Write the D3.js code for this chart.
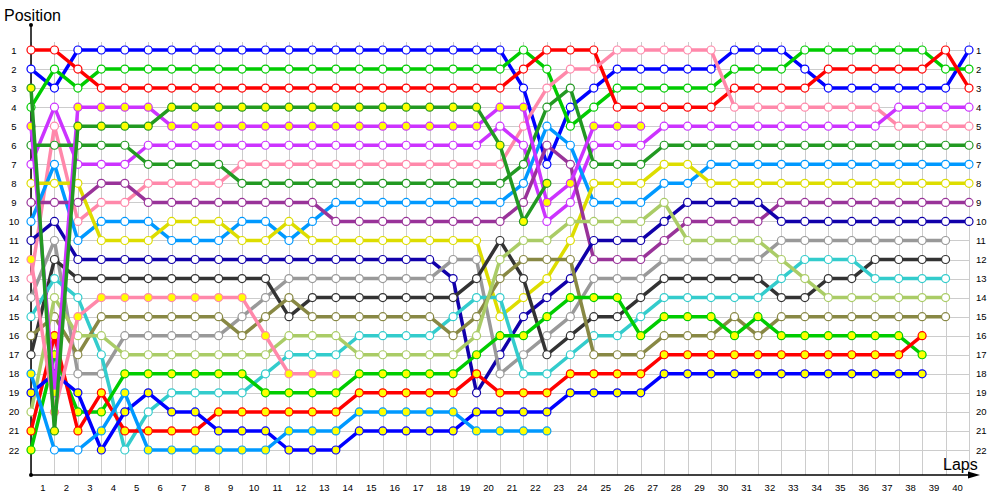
<!DOCTYPE html>
<meta charset="utf-8">
<style>
    body { margin: 0; background: #fff; }
    svg text { font-family: "Liberation Sans", Arial, sans-serif; font-size: 9.5px; fill: #000; }
    svg text.big { font-size: 16px; }
</style>

<svg width="1000" height="500"></svg>

<script src="https://d3js.org/d3.v7.min.js"></script>
<script>
    // positions per lap, lap 0 (grid) .. last lap driven
    var blue = [2, 3, 1, 1, 1, 1, 1, 1, 1, 1,  1, 1, 1, 1, 1, 1, 1, 1, 1, 1,  1, 3, 7, 4, 3, 2, 2, 2, 2, 2,  1, 1, 1, 2, 3, 3, 3, 3, 3, 3,  1];
    var green = [4, 2, 3, 2, 2, 2, 2, 2, 2, 2,  2, 2, 2, 2, 2, 2, 2, 2, 2, 2,  2, 1, 2, 5, 4, 3, 3, 3, 3, 3,  2, 2, 2, 1, 1, 1, 1, 1, 1, 2,  2];
    var red = [1, 1, 2, 3, 3, 3, 3, 3, 3, 3,  3, 3, 3, 3, 3, 3, 3, 3, 3, 3,  3, 2, 1, 1, 1, 4, 4, 4, 4, 4,  3, 3, 3, 3, 2, 2, 2, 2, 2, 1,  3];
    var pink = [13, 5, 10, 9, 9, 8, 8, 8, 8, 7,  7, 7, 7, 7, 7, 7, 7, 7, 7, 7,  7, 5, 3, 2, 2, 1, 1, 1, 1, 1,  4, 4, 4, 4, 4, 4, 4, 5, 5, 5,  5];
    var violet = [7, 4, 7, 7, 7, 6, 6, 6, 6, 6,  6, 6, 6, 6, 6, 6, 6, 6, 6, 6,  5, 6, 10, 9, 6, 6, 6, 5, 5, 5,  5, 5, 5, 5, 5, 5, 5, 4, 4, 4,  4];
    var darkGreen = [6, 6, 6, 6, 6, 7, 7, 7, 7, 8,  8, 8, 8, 8, 8, 8, 8, 8, 8, 8,  8, 7, 4, 3, 7, 7, 7, 6, 6, 6,  6, 6, 6, 6, 6, 6, 6, 6, 6, 6,  6];
    var skyBlue = [10, 7, 11, 10, 10, 10, 11, 11, 11, 10,  10, 11, 10, 9, 9, 9, 9, 9, 9, 9,  9, 8, 5, 6, 9, 9, 9, 8, 8, 7,  7, 7, 7, 7, 7, 7, 7, 7, 7, 7,  7];
    var yellow = [8, 8, 8, 11, 11, 11, 10, 10, 10, 11,  11, 10, 11, 11, 11, 11, 11, 11, 11, 11,  15, 14, 13, 11, 8, 8, 8, 7, 7, 8,  8, 8, 8, 8, 8, 8, 8, 8, 8, 8,  8];
    var purple = [9, 9, 9, 8, 8, 9, 9, 9, 9, 9,  9, 9, 9, 10, 10, 10, 10, 10, 10, 10,  10, 9, 6, 7, 12, 12, 12, 11, 10, 10,  10, 10, 9, 9, 9, 9, 9, 9, 9, 9,  9];
    var navy = [11, 10, 12, 12, 12, 12, 12, 12, 12, 12,  12, 12, 12, 12, 12, 12, 12, 12, 13, 19,  17, 15, 14, 13, 11, 11, 11, 10, 9, 9,  9, 9, 10, 10, 10, 10, 10, 10, 10, 10,  10];
    var gray = [14, 11, 18, 18, 16, 16, 16, 16, 16, 15,  14, 13, 13, 13, 13, 13, 13, 13, 12, 12,  18, 17, 16, 15, 13, 13, 13, 12, 12, 12,  12, 12, 11, 11, 11, 11, 11, 11, 11, 11];
    var black = [17, 12, 13, 13, 13, 13, 13, 13, 13, 13,  13, 15, 14, 14, 14, 14, 14, 14, 14, 13,  11, 13, 17, 16, 15, 15, 14, 13, 13, 13,  13, 13, 14, 14, 13, 13, 12, 12, 12, 12];
    var cyan = [15, 13, 14, 17, 22, 20, 19, 19, 19, 19,  18, 17, 17, 17, 16, 16, 16, 16, 15, 14,  14, 18, 18, 17, 16, 16, 15, 14, 14, 14,  14, 14, 13, 12, 12, 12, 13, 13, 13, 13];
    var olive = [16, 15, 17, 15, 15, 15, 15, 15, 15, 16,  15, 14, 15, 15, 15, 15, 15, 15, 16, 15,  13, 12, 12, 12, 17, 17, 17, 16, 16, 16,  15, 16, 15, 15, 15, 15, 15, 15, 15, 15];
    var lime = [20, 14, 16, 16, 17, 17, 17, 17, 17, 17,  17, 16, 16, 16, 17, 17, 17, 17, 17, 16,  12, 11, 11, 10, 10, 10, 10, 9, 11, 11,  11, 11, 12, 13, 14, 14, 14, 14, 14, 14];
    var green2 = [22, 17, 20, 20, 18, 18, 18, 18, 18, 18,  19, 19, 19, 19, 18, 18, 18, 18, 18, 17,  16, 16, 15, 14, 14, 14, 16, 15, 15, 15,  16, 15, 16, 16, 16, 16, 16, 16, 17];
    var red2 = [21, 16, 21, 19, 21, 21, 21, 21, 20, 20,  20, 20, 20, 20, 19, 19, 19, 19, 19, 18,  19, 19, 19, 18, 18, 18, 18, 17, 17, 17,  17, 17, 17, 17, 17, 17, 17, 17, 16];
    var blue2 = [19, 18, 19, 22, 20, 19, 20, 20, 21, 21,  21, 22, 22, 22, 21, 21, 21, 21, 21, 20,  20, 20, 20, 19, 19, 19, 19, 18, 18, 18,  18, 18, 18, 18, 18, 18, 18, 18, 18];
    var skyBlue2 = [18, 22, 22, 21, 19, 22, 22, 22, 22, 22,  22, 21, 21, 21, 20, 20, 20, 20, 20, 21,  21, 21, 21];
    var pink2 = [12, 20, 15, 14, 14, 14, 14, 14, 14, 14,  16, 18, 18, 18];
    var violet2 = [5, 19, 4, 4, 4, 4, 5, 5, 5, 5,  5, 5, 5, 5, 5, 5, 5, 5, 5, 5,  4, 4, 9, 8, 5, 5, 5];
    var darkGreen2 = [3, 21, 5, 5, 5, 5, 4, 4, 4, 4,  4, 4, 4, 4, 4, 4, 4, 4, 4, 4,  6, 10, 8];

    // laps where skyBlue2 had a white marker instead of yellow
    var skyBlue2WhiteLaps = [1, 2];

    var lapLabels = [1, 2, 3, 4, 5, 6, 7, 8, 9, 10, 11, 12, 13, 14, 15, 16, 17, 18, 19, 20,
        21, 22, 23, 24, 25, 26, 27, 28, 29, 30, 31, 32, 33, 34, 35, 36, 37, 38, 39, 40];
    var positionLabels = [1, 2, 3, 4, 5, 6, 7, 8, 9, 10, 11, 12, 13, 14, 15, 16, 17, 18, 19, 20, 21, 22];

    var drivers = [
        {pos: blue, color: "#0000ff", mark: "w"},
        {pos: green, color: "#00cc00", mark: "w"},
        {pos: red, color: "#ff0000", mark: "w"},
        {pos: pink, color: "#ff88aa", mark: "w"},
        {pos: violet, color: "#cc33ff", mark: "w"},
        {pos: darkGreen, color: "#229922", mark: "w"},
        {pos: skyBlue, color: "#0099ff", mark: "w"},
        {pos: yellow, color: "#dddd00", mark: "w"},
        {pos: purple, color: "#993399", mark: "w"},
        {pos: navy, color: "#1100aa", mark: "w"},
        {pos: gray, color: "#999999", mark: "w"},
        {pos: black, color: "#333333", mark: "w"},
        {pos: cyan, color: "#33cccc", mark: "w"},
        {pos: olive, color: "#888844", mark: "w"},
        {pos: lime, color: "#aacc66", mark: "w"},
        {pos: green2, color: "#00cc00", mark: "y"},
        {pos: red2, color: "#ff0000", mark: "y"},
        {pos: blue2, color: "#0000ff", mark: "y"},
        {pos: skyBlue2, color: "#0099ff", mark: "y", white: skyBlue2WhiteLaps},
        {pos: pink2, color: "#ff88aa", mark: "y"},
        {pos: violet2, color: "#cc33ff", mark: "y"},
        {pos: darkGreen2, color: "#229922", mark: "y"}
    ];

    (function () {
        var svg = d3.select("svg"),
            x = d3.scaleLinear().domain([0, 40]).range([31, 969]),
            y = d3.scaleLinear().domain([1, 22]).range([50, 450]),
            axisY = 475;

        // grid
        var grid = svg.append("g")
            .attr("stroke", "#cccccc")
            .attr("stroke-width", 1)
            .attr("shape-rendering", "crispEdges");
        grid.selectAll("line.v")
            .data([0].concat(lapLabels))
            .enter()
            .append("line")
            .attr("x1", function (d) { return Math.round(x(d)) + 0.5; })
            .attr("x2", function (d) { return Math.round(x(d)) + 0.5; })
            .attr("y1", 42)
            .attr("y2", axisY);
        grid.selectAll("line.h")
            .data(positionLabels)
            .enter()
            .append("line")
            .attr("x1", x(0))
            .attr("x2", x(40))
            .attr("y1", function (d) { return Math.round(y(d)) + 0.5; })
            .attr("y2", function (d) { return Math.round(y(d)) + 0.5; });

        // axes labels
        var left = svg.append("g")
            .attr("transform", "translate(" + x(0) + ",0)")
            .call(d3.axisLeft(y).tickValues(positionLabels).tickSize(0).tickPadding(17));
        left.select(".domain").remove();
        left.selectAll("text").attr("text-anchor", "middle");

        var right = svg.append("g")
            .attr("transform", "translate(" + x(40) + ",0)")
            .call(d3.axisRight(y).tickValues(positionLabels).tickSize(0).tickPadding(7));
        right.select(".domain").remove();

        var bottom = svg.append("g")
            .attr("transform", "translate(0," + axisY + ")")
            .call(d3.axisBottom(x).tickValues(lapLabels).tickSize(0).tickPadding(9));
        bottom.select(".domain").remove();
        bottom.selectAll("text").attr("x", -12);

        // axis lines
        svg.append("line")
            .attr("x1", x(0)).attr("x2", x(0))
            .attr("y1", 25).attr("y2", axisY)
            .attr("stroke", "#000").attr("stroke-width", 1.5);
        svg.append("line")
            .attr("x1", x(0)).attr("x2", 972)
            .attr("y1", axisY).attr("y2", axisY)
            .attr("stroke", "#000").attr("stroke-width", 1.5);
        svg.append("path")
            .attr("d", "M968," + (axisY - 3.5) + "L980," + axisY + "L968," + (axisY + 3.5) + "Z")
            .attr("fill", "#000");
        svg.append("circle").attr("cx", x(0)).attr("cy", 25).attr("r", 2).attr("fill", "#000");
        svg.append("circle").attr("cx", x(0)).attr("cy", axisY).attr("r", 2).attr("fill", "#000");

        svg.append("text").attr("class", "big").attr("x", 4).attr("y", 21).text("Position");
        svg.append("text").attr("class", "big").attr("x", 943).attr("y", 470).text("Laps");

        // series
        var line = d3.line()
            .x(function (d, i) { return x(i); })
            .y(function (d) { return y(d); });

        var series = svg.append("g")
            .selectAll("g")
            .data(drivers)
            .enter()
            .append("g");

        series.append("path")
            .attr("d", function (d) { return line(d.pos); })
            .attr("fill", "none")
            .attr("stroke", function (d) { return d.color; })
            .attr("stroke-width", 3.5)
            .attr("stroke-linejoin", "round");

        series.selectAll("circle")
            .data(function (d) {
                return d.pos.map(function (p, i) {
                    var yellowMark = d.mark === "y" && !(d.white && d.white.indexOf(i) >= 0);
                    return {lap: i, pos: p, color: d.color, fill: yellowMark ? "#ffff00" : "#ffffff"};
                });
            })
            .enter()
            .append("circle")
            .attr("cx", function (d) { return x(d.lap); })
            .attr("cy", function (d) { return y(d.pos); })
            .attr("r", 4)
            .attr("fill", function (d) { return d.fill; })
            .attr("stroke", function (d) { return d.color; })
            .attr("stroke-width", 1.2);
    })();
</script>
